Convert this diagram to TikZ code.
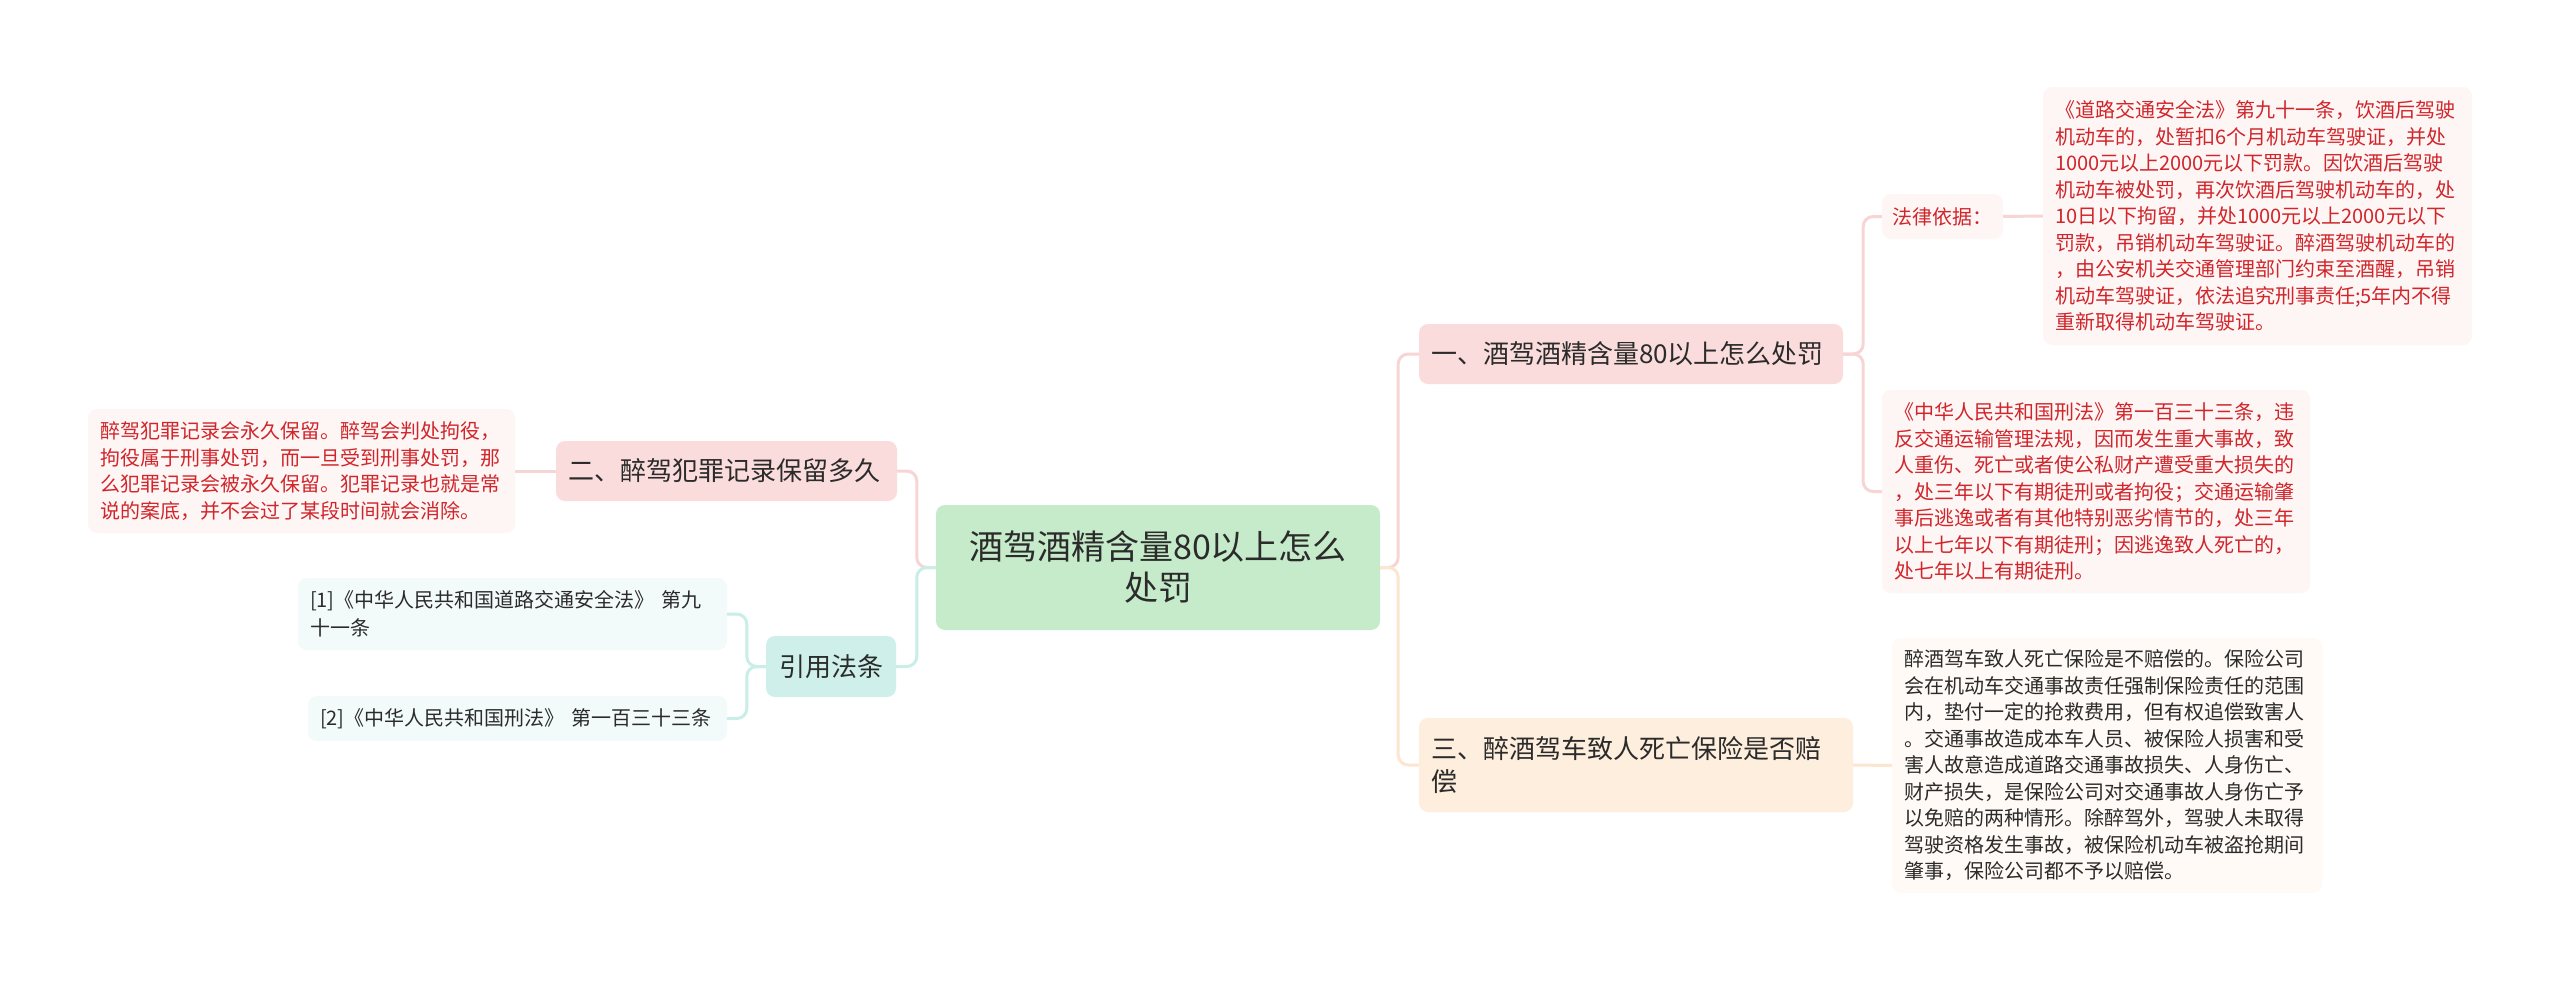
\documentclass[tikz,border=0pt]{standalone}
\usepackage{fontspec}
\setmainfont{Noto Sans CJK SC}
\definecolor{rootfill}{HTML}{C6EBCA}
\definecolor{pinkfill}{HTML}{FBDCDC}
\definecolor{orangefill}{HTML}{FDEEDD}
\definecolor{tealfill}{HTML}{CFF0EA}
\definecolor{reffill}{HTML}{F3FAFA}
\definecolor{leafpink}{HTML}{FEF5F5}
\definecolor{leafcream}{HTML}{FFFAF5}
\definecolor{redtext}{HTML}{D0262B}
\definecolor{darktext}{HTML}{2B2B2B}
\definecolor{pinkline}{HTML}{F7D5D5}
\definecolor{tealline}{HTML}{C9EEE8}
\definecolor{orangeline}{HTML}{FCE6D0}
\tikzset{
  box/.style={rounded corners=9pt, inner ysep=0pt, text=darktext},
  rootbox/.style={box, fill=rootfill, align=center, font=\fontsize{34}{41}\selectfont},
  topicbox/.style={box, align=left, inner xsep=12pt, font=\fontsize{26}{33}\selectfont},
  leafbox/.style={box, align=left, inner xsep=12pt, font=\fontsize{20}{26.5}\selectfont},
  link/.style={line width=3pt, rounded corners=10pt},
}
\begin{document}
\begin{tikzpicture}[x=1pt,y=-1pt]
    \useasboundingbox[fill=white] (0,0) rectangle (2560,983);

    \node[rootbox, minimum width=444pt, minimum height=125pt] (root) at (1158,567.5) {酒驾酒精含量80以上怎么\\处罚}; %root

    \node[topicbox, fill=pinkfill, text width=400pt, minimum height=60pt] (penalty) at (1631,354) {一、酒驾酒精含量80以上怎么处罚}; %1
    \node[topicbox, fill=pinkfill, text width=317pt, minimum height=60pt] (record) at (726.5,471) {二、醉驾犯罪记录保留多久}; %2
    \node[topicbox, fill=orangefill, text width=410pt, minimum height=94pt] (insure) at (1636,765) {三、醉酒驾车致人死亡保险是否赔\\偿}; %3
    \node[topicbox, fill=tealfill, align=center, inner xsep=0pt, minimum width=130pt, minimum height=61pt] (cite) at (831,666.5) {引用法条}; %cite

    \node[leafbox, fill=leafpink, text=redtext, inner xsep=0pt, minimum width=121pt, minimum height=45pt] (basis) at (1942.5,216.5) {法律依据：}; %basis
    \node[leafbox, fill=leafpink, text=redtext, text width=405pt, minimum height=258pt] (roadlaw) at (2257.5,216) {《道路交通安全法》第九十一条，饮酒后驾驶\\机动车的，处暂扣6个月机动车驾驶证，并处\\1000元以上2000元以下罚款。因饮酒后驾驶\\机动车被处罚，再次饮酒后驾驶机动车的，处\\10日以下拘留，并处1000元以上2000元以下\\罚款，吊销机动车驾驶证。醉酒驾驶机动车的\\，由公安机关交通管理部门约束至酒醒，吊销\\机动车驾驶证，依法追究刑事责任;5年内不得\\重新取得机动车驾驶证。}; %law 1
    \node[leafbox, fill=leafpink, text=redtext, text width=404pt, minimum height=203pt] (crimelaw) at (2096,491.5) {《中华人民共和国刑法》第一百三十三条，违\\反交通运输管理法规，因而发生重大事故，致\\人重伤、死亡或者使公私财产遭受重大损失的\\，处三年以下有期徒刑或者拘役；交通运输肇\\事后逃逸或者有其他特别恶劣情节的，处三年\\以上七年以下有期徒刑；因逃逸致人死亡的，\\处七年以上有期徒刑。}; %law 2
    \node[leafbox, fill=leafcream, text width=406pt, minimum height=255pt] (claim) at (2107,765.5) {醉酒驾车致人死亡保险是不赔偿的。保险公司\\会在机动车交通事故责任强制保险责任的范围\\内，垫付一定的抢救费用，但有权追偿致害人\\。交通事故造成本车人员、被保险人损害和受\\害人故意造成道路交通事故损失、人身伤亡、\\财产损失，是保险公司对交通事故人身伤亡予\\以免赔的两种情形。除醉驾外，驾驶人未取得\\驾驶资格发生事故，被保险机动车被盗抢期间\\肇事，保险公司都不予以赔偿。}; %insurance
    \node[leafbox, fill=leafpink, text=redtext, text width=403pt, minimum height=124pt] (keep) at (301.5,471) {醉驾犯罪记录会永久保留。醉驾会判处拘役，\\拘役属于刑事处罚，而一旦受到刑事处罚，那\\么犯罪记录会被永久保留。犯罪记录也就是常\\说的案底，并不会过了某段时间就会消除。}; %record
    \node[leafbox, fill=reffill, text width=405pt, minimum height=72pt, font=\fontsize{20}{28}\selectfont] (ref1) at (512.5,614) {[1]《中华人民共和国道路交通安全法》 第九\\十一条}; %ref 1
    \node[leafbox, fill=reffill, text width=395pt, minimum height=45pt] (ref2) at (517.5,718.5) {[2]《中华人民共和国刑法》 第一百三十三条}; %ref 2

    % links
    \draw[link, pinkline] (root.east) -- ++(18,0) |- (penalty.west);
    \draw[link, orangeline] (root.east) -- ++(18,0) |- (insure.west);
    \draw[link, pinkline] (root.west) -- ++(-19,0) |- (record.east);
    \draw[link, tealline] (root.west) -- ++(-19,0) |- (cite.east);
    \draw[link, pinkline] (penalty.east) -- ++(20,0) |- (basis.west);
    \draw[link, pinkline] (penalty.east) -- ++(20,0) |- (crimelaw.west);
    \draw[link, pinkline] (basis.east) -- (roadlaw.west);
    \draw[link, orangeline] (insure.east) -- (claim.west);
    \draw[link, pinkline] (record.west) -- (keep.east);
    \draw[link, tealline] (cite.west) -- ++(-19,0) |- (ref1.east);
    \draw[link, tealline] (cite.west) -- ++(-19,0) |- (ref2.east);
\end{tikzpicture}
\end{document}
